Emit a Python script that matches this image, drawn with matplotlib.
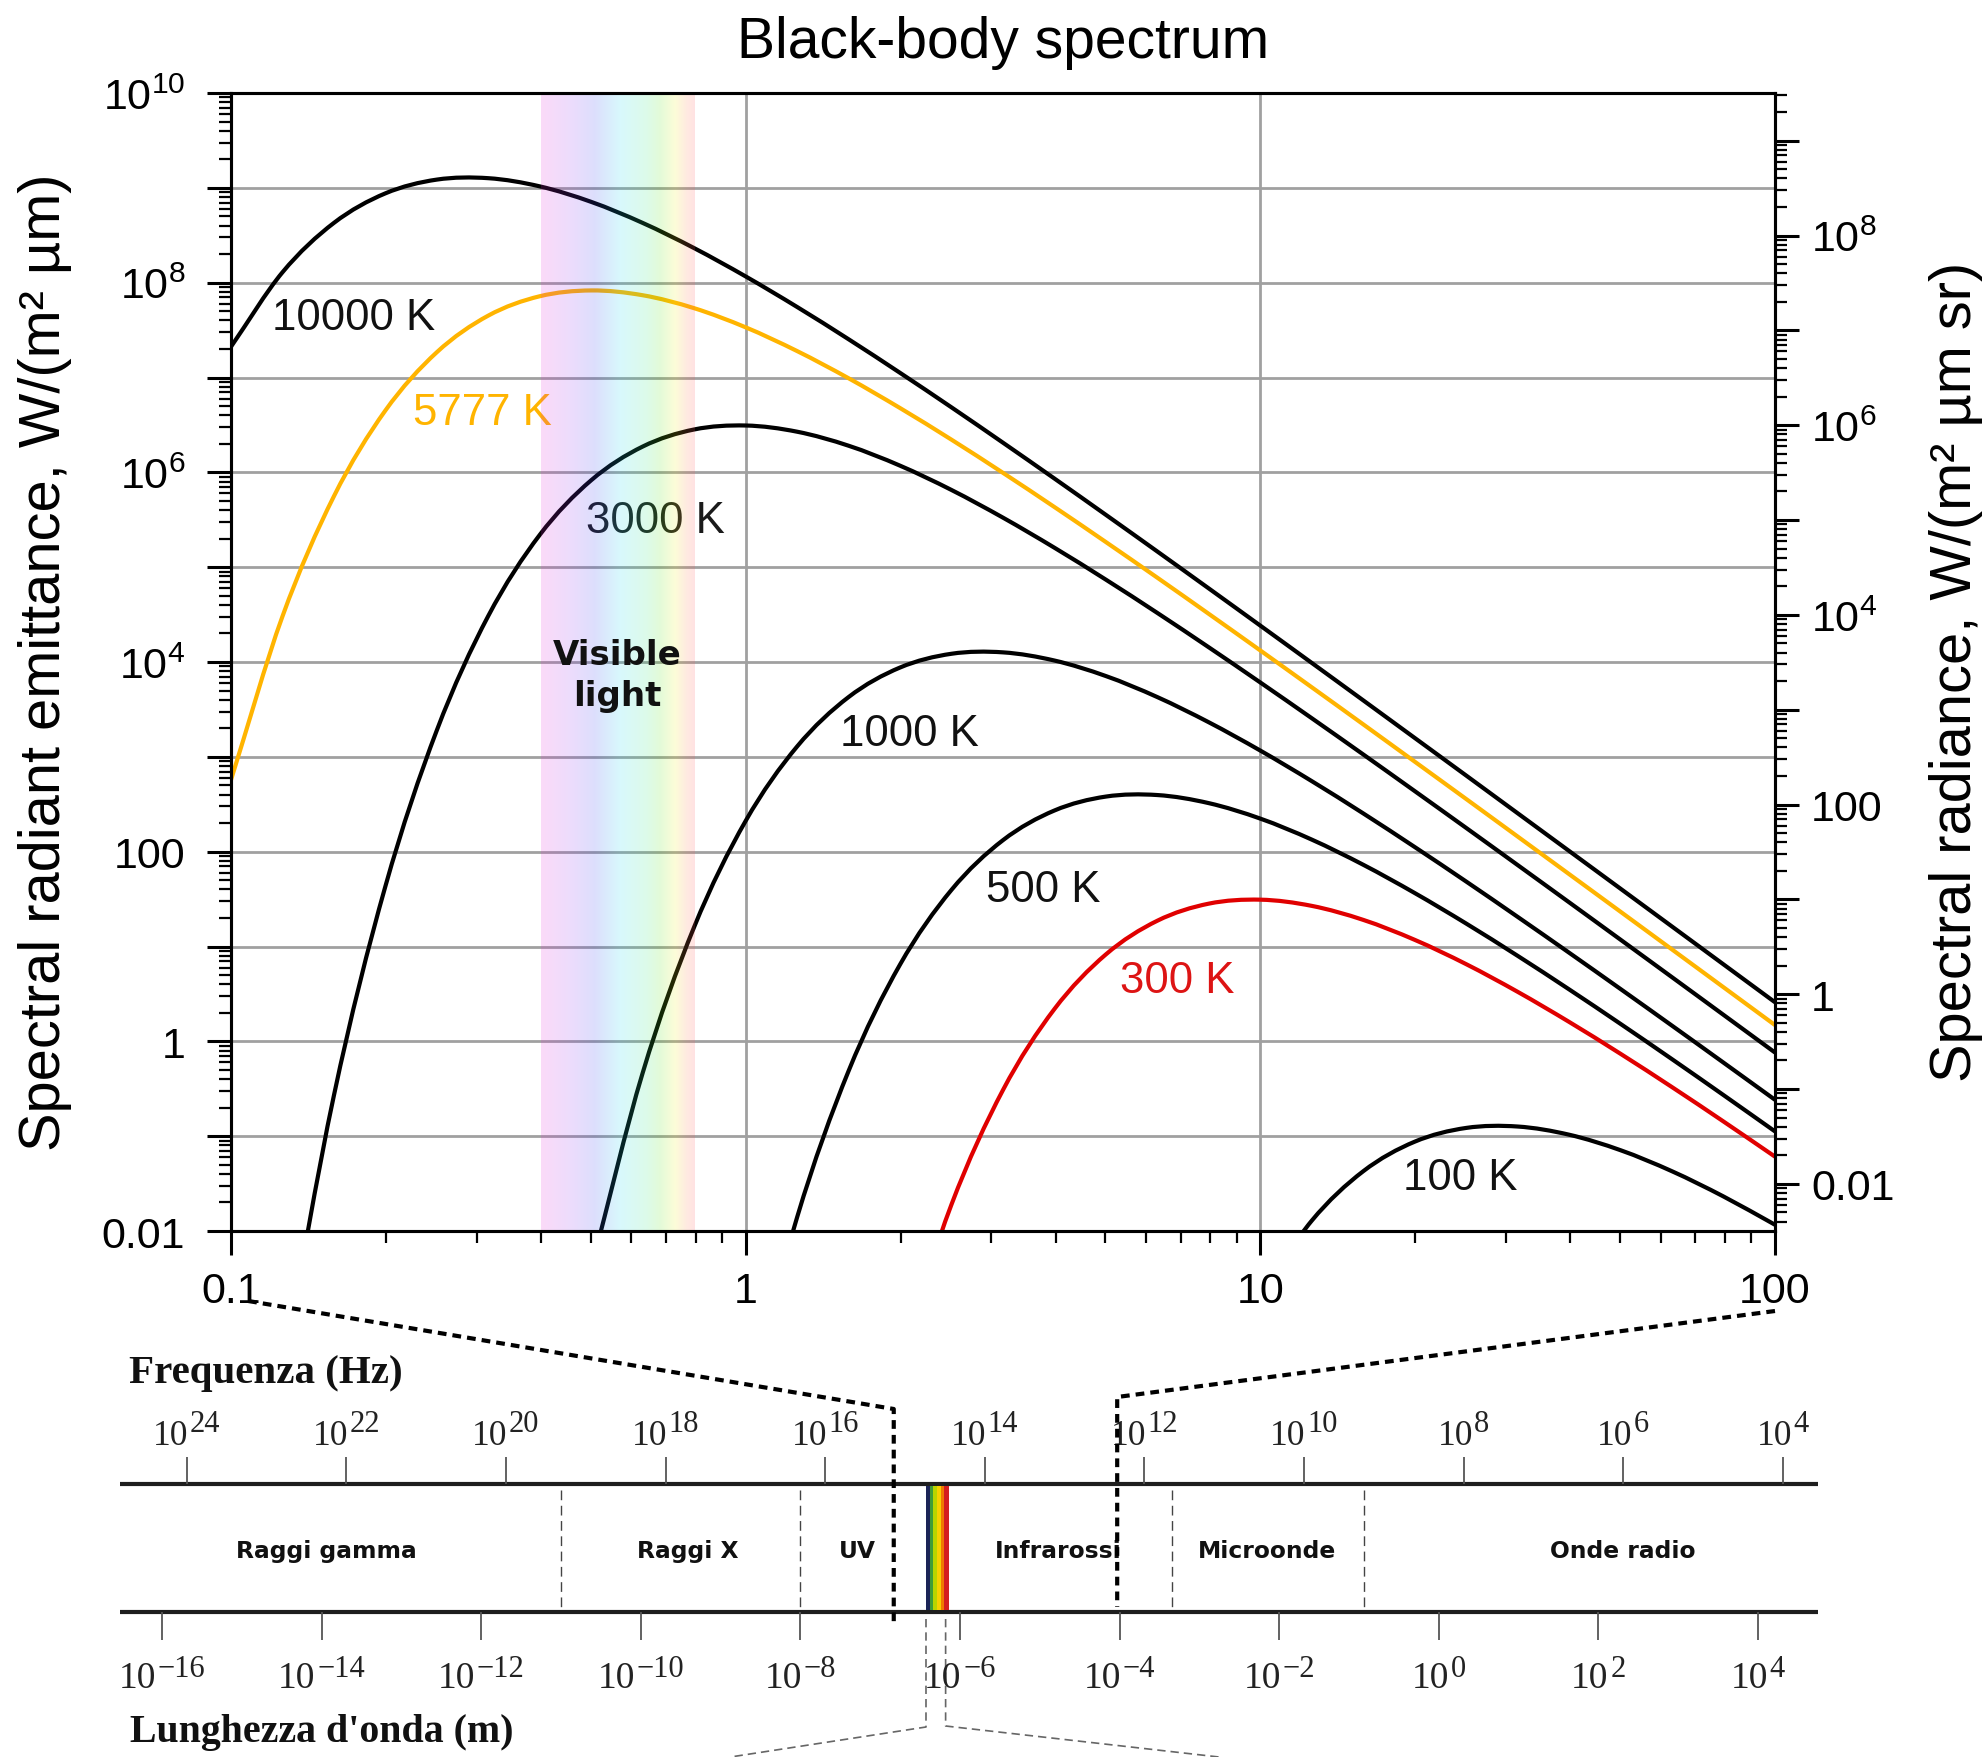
import numpy as np
import matplotlib
matplotlib.use("Agg")
import matplotlib.pyplot as plt
from matplotlib.lines import Line2D
from matplotlib.patches import Rectangle, PathPatch
from matplotlib.path import Path
from matplotlib.colors import LinearSegmentedColormap
from matplotlib.ticker import LogLocator, FuncFormatter, NullFormatter

# ---------------------------------------------------------------- data
# Wavelength grid of the black-body curves (micrometres)
wavelength_um = [0.1, 0.1259, 0.1585, 0.1995, 0.2512, 0.3162, 0.3981, 0.5012, 0.631, 0.7943,
                 1.0, 1.259, 1.585, 1.995, 2.512, 3.162, 3.981, 5.012, 6.31, 7.943,
                 10.0, 12.59, 15.85, 19.95, 25.12, 31.62, 39.81, 50.12, 63.1, 79.43, 100.0]

# log10 of the spectral radiant emittance, W/(m^2 um); each series ends at 100 um
log_m_10000 = [7.3245, 8.1095, 8.6305, 8.9417, 9.0869, 9.1017, 9.0154, 8.8516, 8.6296, 8.3640,
               8.0658, 7.7435, 7.4032, 7.0491, 6.6848, 6.3125, 5.9343, 5.5513, 5.1646, 4.7752,
               4.3835, 3.9900, 3.5952, 3.1993, 2.8026, 2.4052, 2.0072, 1.6089, 1.2101, 0.8112, 0.4120]
log_m_5777 = [2.7567, 4.4813, 5.7484, 6.6520, 7.2670, 7.6528, 7.8569, 7.9180, 7.8673, 7.7307,
              7.5290, 7.2785, 6.9918, 6.6779, 6.3439, 5.9946, 5.6339, 5.2644, 4.8883, 4.5069,
              4.1216, 3.7331, 3.3422, 2.9494, 2.5551, 2.1596, 1.7631, 1.3660, 0.9682, 0.5700, 0.1714]
log_m_3000 = [-3.4718, -0.5691, 1.6340, 3.2811, 4.4866, 5.3412, 5.9172, 6.2721, 6.4520,
              6.4938, 6.4283, 6.2805, 6.0703, 5.8136, 5.5221, 5.2047, 4.8680, 4.5168, 4.1545,
              3.7839, 3.4069, 3.0249, 2.6390, 2.2501, 1.8589, 1.4658, 1.0713, 0.6756, 0.2790, -0.1182]
log_m_1000 = [-2.3946, -0.3305, 1.2067,
              2.3245, 3.1095, 3.6305, 3.9417, 4.0869, 4.1017, 4.0154, 3.8516, 3.6296, 3.3640,
              3.0658, 2.7435, 2.4032, 2.0491, 1.6848, 1.3125, 0.9343, 0.5513, 0.1646, -0.2248, -0.6165]
log_m_500 = [-3.9242, -1.8540, -0.3119, 0.8097, 1.5978, 2.1212, 2.4342, 2.5810, 2.5970, 2.5116,
             2.3485, 2.1270, 1.8617, 1.5639, 1.2418, 0.9016, 0.5477, 0.1834, -0.1887, -0.5670, -0.9499]
log_m_300 = [-3.3660, -1.7189, -0.5134, 0.3412, 0.9172, 1.2721, 1.4520,
             1.4938, 1.4283, 1.2805, 1.0703, 0.8136, 0.5221, 0.2047, -0.1320, -0.4832, -0.8455, -1.2161]
log_m_100 = [-2.6755, -1.8905, -1.3695, -1.0583, -0.9131, -0.8983, -0.9846, -1.1484,
             -1.3704, -1.6360, -1.9342]

curve_labels = ["10000 K", "5777 K", "3000 K", "1000 K", "500 K", "300 K", "100 K"]
curve_series = [log_m_10000, log_m_5777, log_m_3000, log_m_1000, log_m_500, log_m_300, log_m_100]
curve_colors = ["#000000", "#FFB400", "#000000", "#000000", "#000000", "#E00000", "#000000"]
label_colors = ["#111111", "#FFB400", "#1a1a1a", "#111111", "#111111", "#DD1414", "#111111"]
# label anchor: (wavelength um, log10 emittance of the baseline)
label_anchor = [(0.1202, 7.511), (0.2258, 6.510), (0.4894, 5.371), (1.525, 3.125),
                (2.93, 1.479), (5.336, 0.520), (18.93, -1.557)]

visible_band_um = (0.4, 0.8)

# Electromagnetic spectrum strip (wavelengths in metres)
wavelength_ticks_exp = [-16, -14, -12, -10, -8, -6, -4, -2, 0, 2, 4]
frequency_ticks_exp = [24, 22, 20, 18, 16, 14, 12, 10, 8, 6, 4]
region_boundaries_m = [1e-11, 1e-8, 4.5e-4, 1.17e-1]
region_names = ["Raggi gamma", "Raggi X", "UV", "Infrarossi", "Microonde", "Onde radio"]
region_label_log_m = [-13.945, -9.41, -7.28, -4.77, -2.15, 2.31]
visible_strip_edges_m = [3.75e-7, 4.2e-7, 4.6e-7, 5.2e-7, 5.7e-7, 6.35e-7, 7.35e-7]
visible_strip_colors = ["#1b2457", "#3f9b3a", "#b9d400", "#f6d000", "#f07a00", "#d41f1f"]

# ---------------------------------------------------------------- style
W, H = 1987, 1758
plt.rcParams["font.family"] = ["Liberation Sans", "DejaVu Sans"]
plt.rcParams["mathtext.fontset"] = "custom"
plt.rcParams["mathtext.rm"] = "Liberation Sans"
plt.rcParams["mathtext.it"] = "Liberation Sans:italic"
plt.rcParams["mathtext.bf"] = "Liberation Sans:bold"
SERIF = ["Liberation Serif", "DejaVu Serif"]

fig = plt.figure(figsize=(W / 100, H / 100), dpi=100)
fig.patch.set_facecolor("white")


def px_axes(left, top, right, bottom):
    return fig.add_axes([left / W, 1 - bottom / H, (right - left) / W, (bottom - top) / H])


def smooth_log_path(x_vals, log_y_vals):
    """Catmull-Rom curve through the points, built in log-log space."""
    pts = np.column_stack([np.log10(x_vals), np.asarray(log_y_vals, dtype=float)])
    ext = np.vstack([2 * pts[0] - pts[1], pts, 2 * pts[-1] - pts[-2]])
    verts = [pts[0]]
    codes = [Path.MOVETO]
    for i in range(len(pts) - 1):
        p0, p1, p2, p3 = ext[i], ext[i + 1], ext[i + 2], ext[i + 3]
        verts += [p1 + (p2 - p0) / 6.0, p2 - (p3 - p1) / 6.0, p2]
        codes += [Path.CURVE4] * 3
    return Path(10.0 ** np.array(verts), codes)


# ---------------------------------------------------------------- main chart
ax = px_axes(231, 94, 1775, 1232)
ax.set_xscale("log")
ax.set_yscale("log")

for vals, col in zip(curve_series, curve_colors):
    path = smooth_log_path(wavelength_um[-len(vals):], vals)
    ax.add_patch(PathPatch(path, facecolor="none", edgecolor=col, lw=3.0,
                           joinstyle="round", zorder=2))

for text, (lx, ly), col in zip(curve_labels, label_anchor, label_colors):
    ax.text(lx, 10.0 ** ly, text, color=col, fontsize=31.5, ha="left", va="baseline", zorder=3)

# translucent rainbow over the visible range
spectrum_cmap = LinearSegmentedColormap.from_list("visible", [
    (0.00, (0.90, 0.15, 0.85)), (0.15, (0.55, 0.20, 0.95)), (0.27, (0.20, 0.25, 0.95)),
    (0.42, (0.10, 0.85, 0.95)), (0.60, (0.20, 0.90, 0.50)), (0.70, (0.35, 0.90, 0.10)),
    (0.82, (0.95, 0.95, 0.10)), (0.92, (1.00, 0.50, 0.30)), (1.00, (1.00, 0.30, 0.35))])
ax.imshow(np.linspace(0, 1, 256)[None, :], cmap=spectrum_cmap, aspect="auto",
          extent=[visible_band_um[0], visible_band_um[1], 0.01, 1e10], alpha=0.17,
          interpolation="bilinear", zorder=4)
ax.text(np.sqrt(visible_band_um[0] * visible_band_um[1]) * 0.995, 10 ** 3.86, "Visible\nlight",
        ha="center", va="center", fontsize=24.5, fontweight="bold", family="DejaVu Sans",
        linespacing=1.3, color="#111111", zorder=6)

ax.set_xlim(0.1, 100)
ax.set_ylim(0.01, 1e10)


def decade_label(v, pos):
    e = int(round(np.log10(v)))
    if e % 2:
        return ""
    plain = {-2: "0.01", 0: "1", 2: "100"}
    if e in plain:
        return plain[e]
    return r"$\mathregular{10^{%d}}$" % e


ax.set_xticks([0.1, 1, 10, 100])
ax.set_xticklabels(["0.1", "1", "10", "100"])
ax.xaxis.set_minor_locator(LogLocator(base=10, subs=np.arange(2, 10), numticks=100))
ax.xaxis.set_minor_formatter(NullFormatter())
ax.yaxis.set_major_locator(LogLocator(base=10, numticks=40))
ax.yaxis.set_major_formatter(FuncFormatter(decade_label))
ax.yaxis.set_minor_locator(LogLocator(base=10, subs=np.arange(2, 10), numticks=400))
ax.yaxis.set_minor_formatter(NullFormatter())

ax.tick_params(which="major", direction="out", length=17, width=2.2, labelsize=31)
ax.tick_params(which="minor", direction="out", length=8.5, width=1.6)
ax.tick_params(axis="x", which="both", top=False, pad=12)
ax.tick_params(axis="y", which="both", right=False, pad=16)

ax.set_axisbelow(True)
ax.grid(True, which="major", axis="both", color="#a0a0a0", lw=2.0)
for sp in ax.spines.values():
    sp.set_linewidth(2.2)

ax.set_title("Black-body spectrum", fontsize=41, pad=26)

# radiance axis (emittance / pi)
ax2 = ax.twinx()
ax2.set_yscale("log")
ax2.set_ylim(0.01 / np.pi, 1e10 / np.pi)
ax2.yaxis.set_major_locator(LogLocator(base=10, numticks=40))
ax2.yaxis.set_major_formatter(FuncFormatter(decade_label))
ax2.yaxis.set_minor_locator(LogLocator(base=10, subs=np.arange(2, 10), numticks=400))
ax2.yaxis.set_minor_formatter(NullFormatter())
ax2.tick_params(which="major", direction="out", length=17, width=2.2, labelsize=31, pad=9)
ax2.tick_params(which="minor", direction="out", length=8.5, width=1.6)
ax2.tick_params(axis="y", which="both", left=False)
for sp in ax2.spines.values():
    sp.set_linewidth(2.2)

fig.text(45 / W, 1 - 662 / H, "Spectral radiant emittance, W/(m² µm)", rotation=90,
         ha="center", va="center", fontsize=41.6)
fig.text(1956 / W, 1 - 672 / H, "Spectral radiance, W/(m² µm sr)", rotation=90,
         ha="center", va="center", fontsize=41.6)

# ---------------------------------------------------------------- spectrum strip
# x in log10(wavelength / m), y in pixel rows of the figure
axs = px_axes(120, 1340, 1818, 1758)
axs.set_xlim(-16.526, 4.752)
axs.set_ylim(1758, 1340)
axs.axis("off")

FREQ_OFFSET = 8.31  # log10 f = FREQ_OFFSET - log10 lambda on this strip
TOP_ROW, BOTTOM_ROW = 1485, 1613

axs.hlines([TOP_ROW, BOTTOM_ROW], -16.526, 4.752, colors="#1e1e1e", lw=3.0, clip_on=False)

freq_x = [FREQ_OFFSET - e for e in frequency_ticks_exp]
axs.vlines(freq_x, 1458, TOP_ROW, colors="#555555", lw=1.3)
axs.vlines(wavelength_ticks_exp, BOTTOM_ROW, 1641, colors="#555555", lw=1.3)
axs.vlines(np.log10(region_boundaries_m), 1491, 1608, colors="#444444", lw=1.0,
           linestyles=(0, (7, 4)))

edges = np.log10(visible_strip_edges_m)
for x0, x1, col in zip(edges[:-1], edges[1:], visible_strip_colors):
    axs.add_patch(Rectangle((x0, TOP_ROW + 2), x1 - x0, BOTTOM_ROW - TOP_ROW - 4,
                            facecolor=col, edgecolor="none", zorder=3))

for name, x in zip(region_names, region_label_log_m):
    axs.text(x, 1552, name, ha="center", va="center", fontsize=16.8, fontweight="bold",
             family="DejaVu Sans", color="#111111")


def power_of_ten(x, row, exponent, base_pt, exp_pt, rise_pt):
    exp_str = str(exponent).replace("-", "\u2212")
    base_w = 1.0 * base_pt
    exp_w = sum(0.564 if ch == "\u2212" else 0.5 for ch in exp_str) * exp_pt
    gap = 0.04 * base_pt
    left = -(base_w + gap + exp_w) / 2
    kw = dict(textcoords="offset points", ha="left", va="baseline", family=SERIF,
              color="#222222", annotation_clip=False)
    axs.annotate("10", (x, row), xytext=(left, 0), fontsize=base_pt, **kw)
    axs.annotate(exp_str, (x, row), xytext=(left + base_w + gap, rise_pt), fontsize=exp_pt, **kw)


for x, e in zip(freq_x, frequency_ticks_exp):
    power_of_ten(x, 1445, e, 25.5, 22, 9.5)
for e in wavelength_ticks_exp:
    power_of_ten(e, 1688, e, 27, 22, 8.0)

axs.text(-16.41, 1383, "Frequenza (Hz)", ha="left", va="baseline", fontsize=29.5,
         fontweight="bold", family=SERIF, color="#111111")
axs.text(-16.40, 1742, "Lunghezza d'onda (m)", ha="left", va="baseline", fontsize=28.7,
         fontweight="bold", family=SERIF, color="#111111")

# thin grey guides dropping from the visible strip
axs.plot([edges[0], edges[0], -8.877], [1620, 1728, 1758], color="#666666", lw=1.2,
         dashes=(5, 3), clip_on=False)
axs.plot([-6.18, -6.18, -2.755], [1620, 1727, 1758], color="#666666", lw=1.2,
         dashes=(5, 3), clip_on=False)


# ---------------------------------------------------------------- zoom connectors
def to_fig(transform, pt):
    return fig.transFigure.inverted().transform(transform.transform(pt))


xt = ax.get_xaxis_transform()
left_path = [to_fig(xt, (0.108, -0.0615)), to_fig(axs.transData, (-6.83, 1410)),
             to_fig(axs.transData, (-6.83, 1625))]
right_path = [to_fig(xt, (100, -0.0703)), to_fig(axs.transData, (-4.03, 1398)),
              to_fig(axs.transData, (-4.03, 1608))]
for path in (left_path, right_path):
    xs, ys = zip(*path)
    fig.add_artist(Line2D(xs, ys, transform=fig.transFigure, color="black", lw=3.0,
                          dashes=(2.1, 1.45), dash_capstyle="butt", zorder=5))

fig.savefig("out.png", dpi=100, facecolor="white")
